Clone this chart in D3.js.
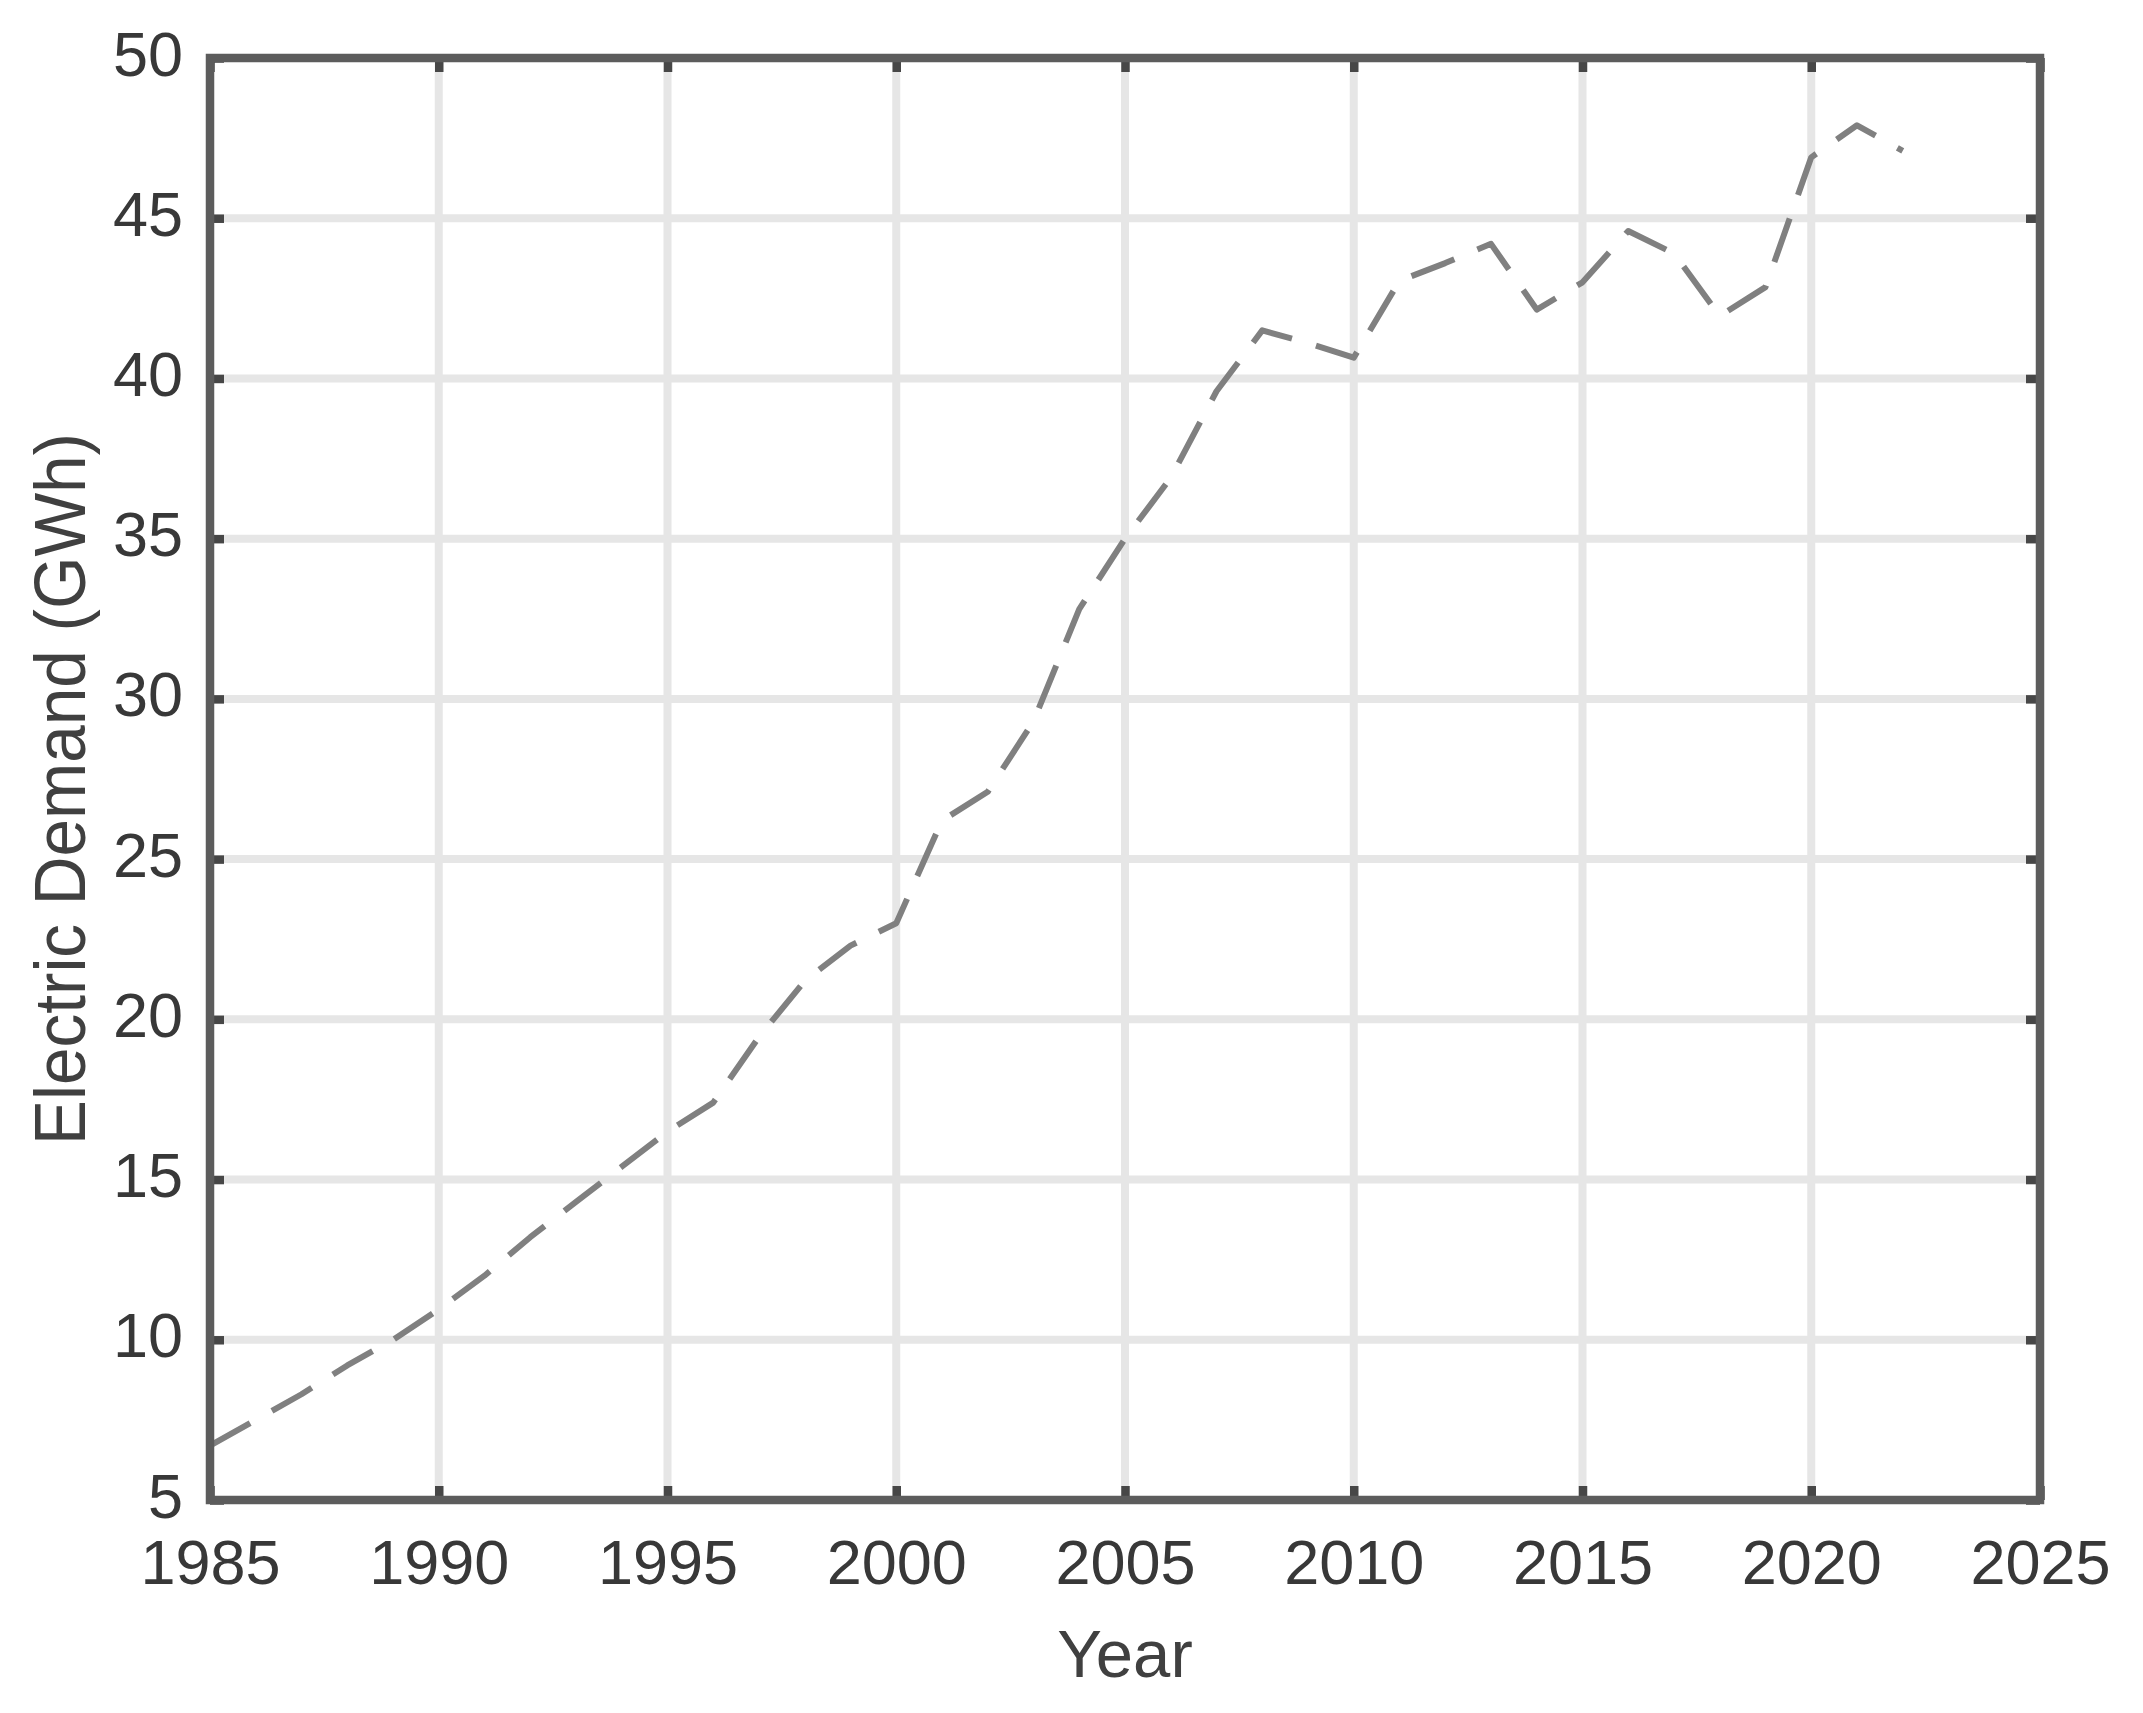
<!DOCTYPE html>
<html>
<head>
<meta charset="utf-8">
<script src="https://cdn.jsdelivr.net/npm/d3@7"></script>
<style>
  html, body { margin: 0; padding: 0; background: #ffffff; }
  svg { display: block; }
  text { font-family: "Liberation Sans", Arial, sans-serif; }
</style>
</head>
<body>
<script>
// ---- data ----
const years = [1985, 1986, 1987, 1988, 1989, 1990, 1991, 1992, 1993, 1994,
               1995, 1996, 1997, 1998, 1999, 2000, 2001, 2002, 2003, 2004,
               2005, 2006, 2007, 2008, 2009, 2010, 2011, 2012, 2013, 2014,
               2015, 2016, 2017, 2018, 2019, 2020, 2021, 2022];
const demand = [6.7, 7.5, 8.3, 9.2, 10.0, 10.95, 12.0, 13.2, 14.3, 15.4,
                16.5, 17.4, 19.45, 21.2, 22.3, 23.0, 26.2, 27.1, 29.3, 32.8,
                35.0, 36.9, 39.6, 41.5, 41.1, 40.65, 43.05, 43.6, 44.2, 42.15,
                43.0, 44.6, 43.9, 41.95, 42.85, 46.9, 47.9, 47.1];
const xTicks = [1985, 1990, 1995, 2000, 2005, 2010, 2015, 2020, 2025];
const yTicks = [5, 10, 15, 20, 25, 30, 35, 40, 45, 50];
const xTitle = "Year";
const yTitle = "Electric Demand (GWh)";

// ---- layout ----
const W = 2143, H = 1713;
const L = 210, R = 2040, T = 58, B = 1500;

const svg = d3.select("body").append("svg").attr("width", W).attr("height", H);

const x = d3.scaleLinear().domain([1985, 2025]).range([L, R]);
const y = d3.scaleLinear().domain([5, 50]).range([B, T]);

// grid
const grid = svg.append("g");
grid.selectAll("line.vg").data(xTicks.slice(1, -1)).join("line")
  .attr("x1", d => x(d)).attr("x2", d => x(d))
  .attr("y1", T).attr("y2", B)
  .attr("stroke", "#e6e6e6").attr("stroke-width", 8);
grid.selectAll("line.hg").data(yTicks.slice(1, -1)).join("line")
  .attr("x1", L).attr("x2", R)
  .attr("y1", d => y(d)).attr("y2", d => y(d))
  .attr("stroke", "#e6e6e6").attr("stroke-width", 8);

// data line
const line = d3.line().x((d, i) => x(years[i])).y(d => y(d));
svg.append("path")
  .datum(demand)
  .attr("d", line)
  .attr("fill", "none")
  .attr("stroke", "#808080")
  .attr("stroke-width", 6)
  .attr("stroke-dasharray", "46,25")
  .attr("stroke-linejoin", "round");

// axes (ticks inward)
const tickLen = 14;
function styleAxis(g, showLabels) {
  g.select(".domain").remove();
  g.selectAll(".tick line").attr("stroke", "#474747").attr("stroke-width", 8.5);
  if (!showLabels) g.selectAll(".tick text").remove();
  else g.selectAll(".tick text")
        .attr("fill", "#383838")
        .style("font-size", "63px")
        .style("font-family", "'Liberation Sans', Arial, sans-serif");
}

const xAxisB = d3.axisBottom(x).tickValues(xTicks).tickSizeInner(-tickLen).tickSizeOuter(0).tickPadding(39).tickFormat(d3.format("d"));
svg.append("g").attr("transform", `translate(0,${B})`).call(xAxisB).call(g => styleAxis(g, true));

const xAxisT = d3.axisTop(x).tickValues(xTicks).tickSizeInner(-tickLen).tickSizeOuter(0);
svg.append("g").attr("transform", `translate(0,${T})`).call(xAxisT).call(g => styleAxis(g, false));

const yAxisL = d3.axisLeft(y).tickValues(yTicks).tickSizeInner(-tickLen).tickSizeOuter(0).tickPadding(27).tickFormat(d3.format("d"));
svg.append("g").attr("transform", `translate(${L},0)`).call(yAxisL).call(g => {
  styleAxis(g, true);
  g.selectAll(".tick text").attr("dy", "0.27em");
});

const yAxisR = d3.axisRight(y).tickValues(yTicks).tickSizeInner(-tickLen).tickSizeOuter(0);
svg.append("g").attr("transform", `translate(${R},0)`).call(yAxisR).call(g => styleAxis(g, false));

// frame
svg.append("rect")
  .attr("x", L).attr("y", T).attr("width", R - L).attr("height", B - T)
  .attr("fill", "none").attr("stroke", "#5c5c5c").attr("stroke-width", 8.5);

// titles
svg.append("text")
  .attr("x", (L + R) / 2).attr("y", 1677)
  .attr("text-anchor", "middle")
  .attr("fill", "#404040")
  .style("font-size", "67px")
  .text(xTitle);

svg.append("text")
  .attr("transform", `translate(85,${(T + B) / 2 + 10}) rotate(-90)`)
  .attr("text-anchor", "middle")
  .attr("fill", "#404040")
  .style("font-size", "72px")
  .attr("textLength", 712)
  .attr("lengthAdjust", "spacingAndGlyphs")
  .text(yTitle);
</script>
</body>
</html>
